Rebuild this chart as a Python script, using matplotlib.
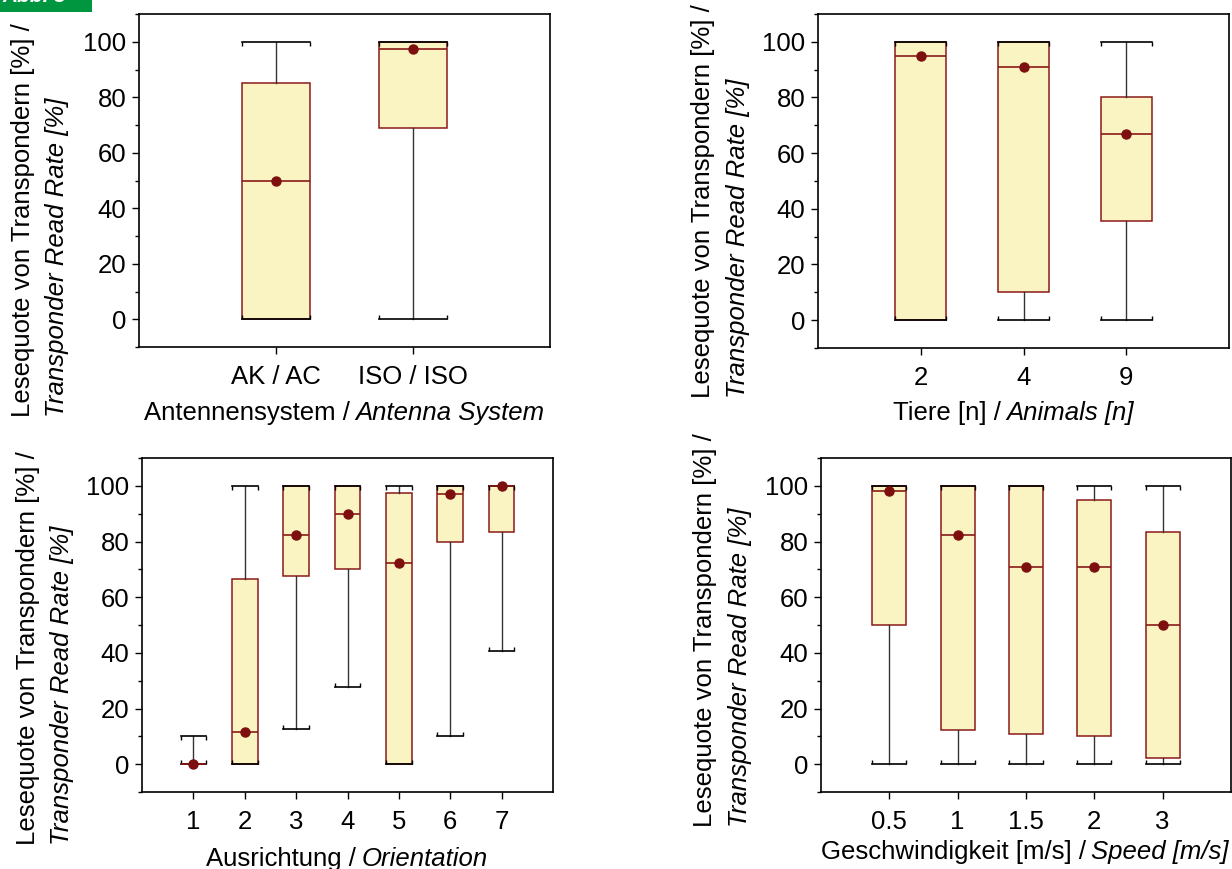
import matplotlib
matplotlib.use('Agg')
import matplotlib.pyplot as plt
from matplotlib.patches import Rectangle
from matplotlib.ticker import MultipleLocator

plt.rcParams['font.family'] = ['Liberation Sans', 'DejaVu Sans']

# Antennensystem
ant_labels = ['AK / AC', 'ISO / ISO']
ant_low  = [0, 0]
ant_q1   = [0, 69]
ant_med  = [50, 97.5]
ant_q3   = [85, 100]
ant_high = [100, 100]
ant_mean = [50, 97.5]

# Tiere
tier_labels = ['2', '4', '9']
tier_low  = [0, 0, 0]
tier_q1   = [0, 10, 35.5]
tier_med  = [95, 91, 67]
tier_q3   = [100, 100, 80]
tier_high = [100, 100, 100]
tier_mean = [95, 91, 67]

# Ausrichtung
aus_labels = ['1', '2', '3', '4', '5', '6', '7']
aus_low  = [0, 0, 12.7, 27.7, 0, 10.2, 40.5]
aus_q1   = [0, 0, 67.7, 70, 0, 80, 83.4]
aus_med  = [0, 11.5, 82.5, 90, 72.3, 97.1, 100]
aus_q3   = [0, 66.6, 100, 100, 97.6, 100, 100]
aus_high = [10, 100, 100, 100, 100, 100, 100]
aus_mean = [0, 11.5, 82.5, 90, 72.3, 97.1, 100]

# Geschwindigkeit
gesch_labels = ['0.5', '1', '1.5', '2', '3']
gesch_low  = [0, 0, 0, 0, 0]
gesch_q1   = [50, 12.1, 10.9, 10, 2.2]
gesch_med  = [98.3, 82.5, 71, 71, 50]
gesch_q3   = [100, 100, 100, 95, 83.3]
gesch_high = [100, 100, 100, 100, 100]
gesch_mean = [98.3, 82.5, 71, 71, 50]

ylab1 = 'Lesequote von Transpondern [%] /'
ylab2 = 'Transponder Read Rate [%]'

FACE = '#f9f4c1'
EDGE = '#8b1a1a'
DOT = '#7d0f0f'
FS = 18.5
BOXW = 0.5

W, H = 1232, 869
fig = plt.figure(figsize=(W / 100, H / 100), dpi=100)
renderer = fig.canvas.get_renderer()


def px_axes(x0, y0, x1, y1):
    return fig.add_axes([x0 / W, 1 - y1 / H, (x1 - x0) / W, (y1 - y0) / H])


def mixed_label(cx, cy, normal, italic):
    # regular part + italic part, centred on cx (pixels from left), cy (pixels from top)
    t1 = fig.text(0, 1 - cy / H, normal, fontsize=FS, ha='left', va='center')
    t2 = fig.text(0, 1 - cy / H, italic, fontsize=FS, style='italic', ha='left', va='center')
    w1 = t1.get_window_extent(renderer).width
    w2 = t2.get_window_extent(renderer).width
    gap = FS * 0.28
    x0 = cx - (w1 + gap + w2) / 2
    t1.set_x(x0 / W)
    t2.set_x((x0 + w1 + gap) / W)


def draw_box(ax, labels, low, q1, med, q3, high, mean):
    stats = []
    for i in range(len(labels)):
        stats.append(dict(whislo=low[i], q1=q1[i], med=med[i], q3=q3[i],
                          whishi=high[i], mean=mean[i], fliers=[]))
    pos = list(range(1, len(labels) + 1))
    ax.bxp(stats, positions=pos, widths=BOXW, capwidths=BOXW, showmeans=True,
           patch_artist=True,
           boxprops=dict(facecolor=FACE, edgecolor=EDGE, linewidth=1.1),
           medianprops=dict(color=EDGE, linewidth=1.2),
           whiskerprops=dict(color='#333333', linewidth=1),
           capprops=dict(color='black', linewidth=1.2),
           meanprops=dict(marker='o', markerfacecolor=DOT, markeredgecolor=DOT,
                          markersize=6.5),
           manage_ticks=False)
    # little end ticks on the caps
    ends = [p - BOXW / 2 for p in pos] + [p + BOXW / 2 for p in pos]
    ax.plot(ends, high + high, ls='none', marker=3, ms=3, mew=1, color='black')
    ax.plot(ends, low + low, ls='none', marker=2, ms=3, mew=1, color='black')
    ax.set_xlim(0, len(labels) + 1)
    ax.set_ylim(-10, 110)
    ax.set_xticks(pos)
    ax.set_xticklabels(labels)
    ax.yaxis.set_major_locator(MultipleLocator(20))
    ax.yaxis.set_minor_locator(MultipleLocator(10))
    ax.tick_params(axis='both', which='major', labelsize=FS, length=5, width=1)
    ax.tick_params(axis='y', which='major', pad=4)
    ax.tick_params(axis='x', which='major', pad=8)
    ax.tick_params(axis='y', which='minor', length=3, width=1)
    for s in ax.spines.values():
        s.set_linewidth(1.2)


def ylabel(x1, x2, ybot):
    fig.text(x1 / W, 1 - ybot / H, ylab1, rotation=90, ha='center', va='bottom', fontsize=18.5)
    fig.text(x2 / W, 1 - ybot / H, ylab2, rotation=90, ha='center', va='bottom',
             fontsize=18.5, style='italic')


ax1 = px_axes(139, 14, 550, 347)
draw_box(ax1, ant_labels, ant_low, ant_q1, ant_med, ant_q3, ant_high, ant_mean)
mixed_label(344, 413, 'Antennensystem /', 'Antenna System')
ylabel(23, 57, 417)

ax2 = px_axes(818, 14, 1229, 348)
draw_box(ax2, tier_labels, tier_low, tier_q1, tier_med, tier_q3, tier_high, tier_mean)
mixed_label(1013, 413, 'Tiere [n] /', 'Animals [n]')
ylabel(703, 738, 398)

ax3 = px_axes(142, 458, 553, 792)
draw_box(ax3, aus_labels, aus_low, aus_q1, aus_med, aus_q3, aus_high, aus_mean)
mixed_label(347, 859, 'Ausrichtung /', 'Orientation')
ylabel(28, 62, 845)

ax4 = px_axes(821, 458, 1231, 792)
draw_box(ax4, gesch_labels, gesch_low, gesch_q1, gesch_med, gesch_q3, gesch_high, gesch_mean)
mixed_label(1025, 852, 'Geschwindigkeit [m/s] /', 'Speed [m/s]')
ylabel(705, 740, 827)

# green figure tag, cut off at the top edge
fig.patches.append(Rectangle((0, 1 - 12 / H), 92 / W, 12 / H, transform=fig.transFigure,
                             facecolor='#00963f', edgecolor='none'))
fig.text(2 / W, 1 - 2 / H, 'Abb. 3', color='white', fontsize=15, fontweight='bold',
         style='italic', ha='left', va='baseline')

fig.savefig('out.png', dpi=100)
